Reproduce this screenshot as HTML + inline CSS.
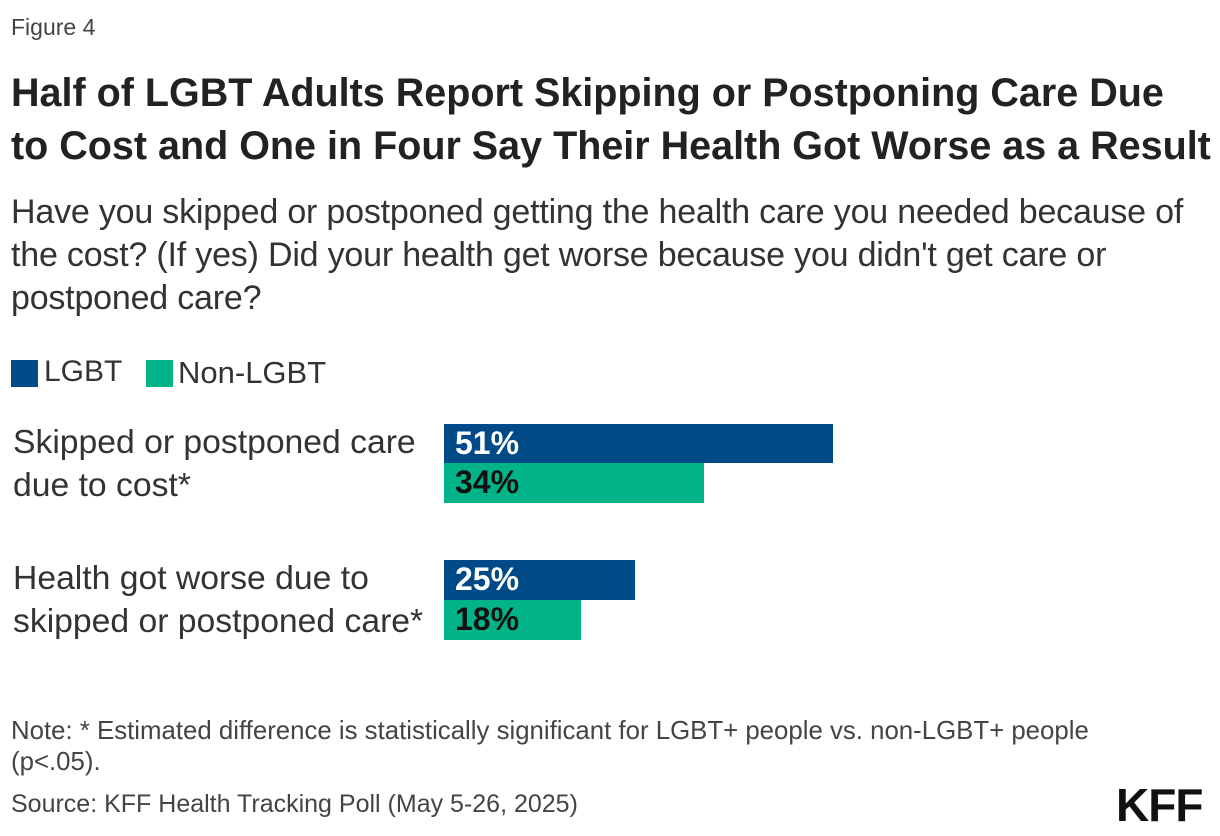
<!DOCTYPE html>
<html><head><meta charset="utf-8"><style>
body{margin:0;width:1220px;height:836px;background:#fff;font-family:"Liberation Sans",sans-serif;color:#333;position:relative;overflow:hidden}
.a{position:absolute;white-space:nowrap}
.bar{position:absolute;left:444px;height:40px}
.bar span{position:absolute;left:11px;top:1px;font-size:32px;font-weight:bold;letter-spacing:0}
</style></head><body>
<div class="a" style="left:11px;top:14px;font-size:23px;color:#444">Figure 4</div>
<div class="a" style="left:11px;top:67px;font-size:39.5px;font-weight:bold;color:#222;line-height:53px;letter-spacing:0">Half of LGBT Adults Report Skipping or Postponing Care Due<br>to Cost and One in Four Say Their Health Got Worse as a Result</div>
<div class="a" style="left:11px;top:191px;font-size:34px;line-height:43px;color:#333;letter-spacing:-0.2px">Have you skipped or postponed getting the health care you needed because of<br>the cost? (If yes) Did your health get worse because you didn't get care or<br>postponed care?</div>
<div class="a" style="left:11px;top:360px;width:27px;height:27px;background:#004a87"></div>
<div class="a" style="left:44px;top:355px;font-size:30px">LGBT</div>
<div class="a" style="left:146px;top:360px;width:27px;height:27px;background:#00b487"></div>
<div class="a" style="left:178px;top:355px;font-size:31px">Non-LGBT</div>
<div class="a" style="left:13px;top:421px;font-size:33.7px;line-height:43px">Skipped or postponed care<br>due to cost*</div>
<div class="a" style="left:13px;top:557px;font-size:33.7px;line-height:43px">Health got worse due to<br>skipped or postponed care*</div>
<div class="bar" style="top:424px;width:389px;background:#004a87;height:39px"><span style="color:#fff">51%</span></div>
<div class="bar" style="top:463px;width:260px;background:#00b487"><span style="color:#111">34%</span></div>
<div class="bar" style="top:560px;width:191px;background:#004a87"><span style="color:#fff">25%</span></div>
<div class="bar" style="top:600px;width:137px;background:#00b487"><span style="color:#111">18%</span></div>
<div class="a" style="left:11px;top:716px;font-size:25.8px;line-height:31px;color:#444">Note: * Estimated difference is statistically significant for LGBT+ people vs. non-LGBT+ people<br>(p&lt;.05).</div>
<div class="a" style="left:11px;top:790px;font-size:25px;color:#444">Source: KFF Health Tracking Poll (May 5-26, 2025)</div>
<div class="a" style="left:1116px;top:778px;font-size:46px;font-weight:bold;color:#111;letter-spacing:-1px">KFF</div>
</body></html>
